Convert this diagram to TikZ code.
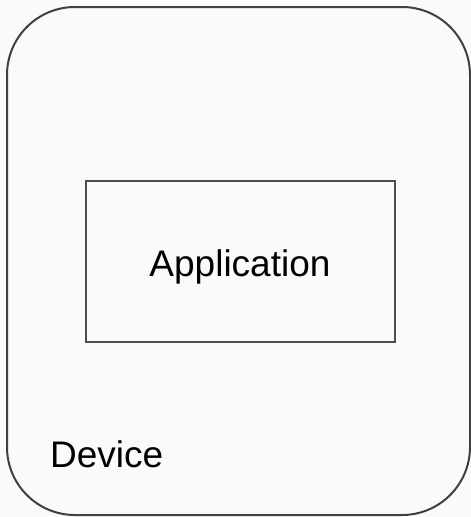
\documentclass[tikz,border=0pt]{standalone}
\usepackage{fontspec}
\setmainfont{Liberation Sans}
\begin{document}
\begin{tikzpicture}[x=1pt,y=-1pt,
  outerbox/.style={draw=black!75, line width=2pt, rounded corners=68pt, minimum width=463pt, minimum height=508pt, inner sep=0pt},
  appbox/.style={draw=black!70, line width=2pt, minimum width=309pt, minimum height=161pt, inner sep=0pt},
  lbl/.style={font=\fontsize{37}{44}\selectfont, inner sep=0pt}]
\fill[black!2] (0,0) rectangle (471,517);
\useasboundingbox (0,0) rectangle (471,517);
\node[outerbox] (device) at (238.5,261) {};
\node[appbox] (app) at (240.5,261.5) {};
\node[lbl, anchor=base] (apptext) at (240,276) {Application};
\node[lbl, anchor=base west] (devtext) at (50,467) {Device};
\end{tikzpicture}
\end{document}
